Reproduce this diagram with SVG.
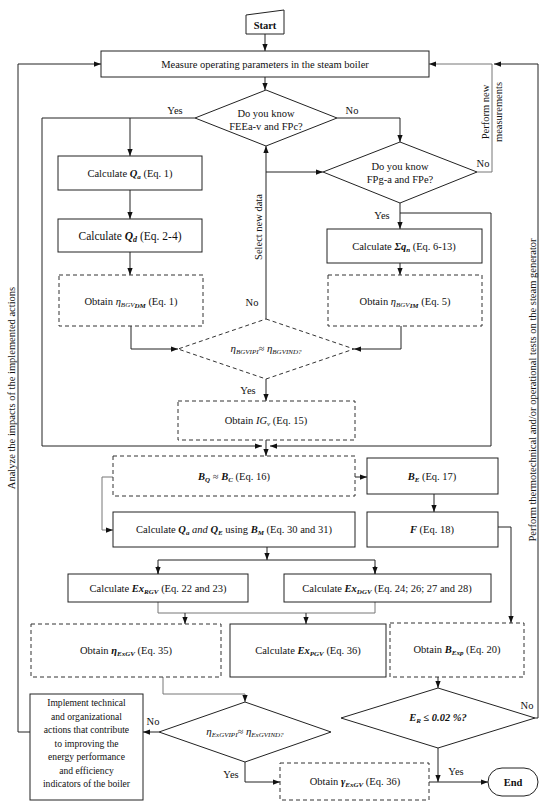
<svg xmlns="http://www.w3.org/2000/svg" width="550" height="805" viewBox="0 0 550 805">
<defs>
<marker id="ah" viewBox="0 0 8 6" refX="8" refY="3" markerWidth="7" markerHeight="5.5" markerUnits="userSpaceOnUse" orient="auto"><path d="M0,0 L8,3 L0,6 z" fill="#111"/></marker>
</defs>
<style>
.bx{fill:#fff;stroke:#222;stroke-width:1}
.db{fill:#fff;stroke:#333;stroke-width:1;stroke-dasharray:4 3}
.ln{fill:none;stroke:#222;stroke-width:1}
.lg{fill:none;stroke:#777;stroke-width:1}
.t{font-family:"Liberation Serif",serif;font-size:10.5px;fill:#111;text-anchor:middle}
.s{font-size:7px}
.bi{font-weight:bold;font-style:italic}
.i{font-style:italic}
.b{font-weight:bold}
</style>
<rect width="550" height="805" fill="#fff"/>

<g id="connectors">
<path class="ln" d="M265,34 V51" marker-end="url(#ah)"/>
<path class="ln" d="M265,77 V90" marker-end="url(#ah)"/>
<path class="ln" d="M195,118 H130 V156" marker-end="url(#ah)"/>
<path class="ln" d="M130,118 H42 V446 H262" marker-end="url(#ah)"/>
<path class="ln" d="M337,118 H400 V142" marker-end="url(#ah)"/>
<path class="lg" d="M477,172 H492 V64 H429" marker-end="url(#ah)"/>
<path class="ln" d="M535,718 H538 V64 H494" marker-end="url(#ah)"/>
<path class="ln" d="M266,319 V146" marker-end="url(#ah)"/>
<path class="ln" d="M266,172 H323" marker-end="url(#ah)"/>
<path class="ln" d="M130,190 V219" marker-end="url(#ah)"/>
<path class="ln" d="M130,252 V275" marker-end="url(#ah)"/>
<path class="ln" d="M131,326 V349 H178" marker-end="url(#ah)"/>
<path class="ln" d="M400,203 V229" marker-end="url(#ah)"/>
<path class="ln" d="M400,213 H491 V446 H270" marker-end="url(#ah)"/>
<path class="ln" d="M400,263 V275" marker-end="url(#ah)"/>
<path class="ln" d="M401,326 V349 H354" marker-end="url(#ah)"/>
<path class="ln" d="M266,379 V401" marker-end="url(#ah)"/>
<path class="ln" d="M266,440 V456" marker-end="url(#ah)"/>
<path class="ln" d="M355,477 H367" marker-end="url(#ah)"/>
<path class="lg" d="M113,477 H102 V530 H113" marker-end="url(#ah)"/>
<path class="ln" d="M434,494 V512" marker-end="url(#ah)"/>
<path class="ln" d="M498,527 H511 V623" marker-end="url(#ah)"/>
<path class="ln" d="M267,547 V560" marker-end="url(#ah)"/>
<path class="ln" d="M158,574 V560 H375 V574"/>
<path class="ln" d="M158,566 V574" marker-end="url(#ah)"/>
<path class="ln" d="M375,566 V574" marker-end="url(#ah)"/>
<path class="lg" d="M158,602 V613 H375 V602"/>
<path class="ln" d="M185,613 V624" marker-end="url(#ah)"/>
<path class="ln" d="M306,613 V624" marker-end="url(#ah)"/>
<path class="lg" d="M163,677 V694 H245 V702" marker-end="url(#ah)"/>
<path class="ln" d="M438,677 V688" marker-end="url(#ah)"/>
<path class="ln" d="M159,732 H143" marker-end="url(#ah)"/>
<path class="ln" d="M30,732 H18 V64 H101" marker-end="url(#ah)"/>
<path class="ln" d="M245,762 V782 H280" marker-end="url(#ah)"/>
<path class="ln" d="M438,748 V782" marker-end="url(#ah)"/>
<path class="ln" d="M429,782 H488" marker-end="url(#ah)"/>
</g>

<g id="labels">
<text class="t" x="175" y="114">Yes</text>
<text class="t" x="352" y="114">No</text>
<text class="t" x="483" y="167">No</text>
<text class="t" x="382" y="219">Yes</text>
<text class="t" x="252" y="306">No</text>
<text class="t" x="248" y="394">Yes</text>
<text class="t" x="153" y="725">No</text>
<text class="t" x="231" y="778">Yes</text>
<text class="t" x="456" y="775">Yes</text>
<text class="t" x="527" y="709">No</text>
<text class="t" transform="translate(262,227) rotate(-90)">Select new data</text>
<text class="t" transform="translate(489,112) rotate(-90)">Perform new</text>
<text class="t" transform="translate(502,112) rotate(-90)">measurements</text>
<text class="t" transform="translate(15,388) rotate(-90)">Analyze the impacts of the implemented actions</text>
<text class="t" transform="translate(536,390) rotate(-90)">Perform thermotechnical and/or operational tests on the steam generator</text>
</g>

<g id="start">
<polygon class="bx" points="246,15 284,10 284,34 246,34"/>
<text class="t b" x="265" y="29">Start</text>
</g>
<g id="measure">
<rect class="bx" x="101" y="51" width="328" height="26"/>
<text class="t" x="265" y="68">Measure operating parameters in the steam boiler</text>
</g>
<g id="dec1">
<polygon class="bx" points="266,90 337,118 266,146 195,118"/>
<text class="t" x="266" y="117">Do you know</text>
<text class="t" x="266" y="130">FEEa-v and FPc?</text>
</g>
<g id="dec2">
<polygon class="bx" points="400,142 477,172 400,203 323,172"/>
<text class="t" x="400" y="170">Do you know</text>
<text class="t" x="400" y="183">FPg-a and FPe?</text>
</g>
<g id="calcQa">
<rect class="bx" x="58" y="156" width="144" height="34"/>
<text class="t" x="130" y="177">Calculate <tspan class="bi">Q</tspan><tspan class="s bi" dy="2">a</tspan><tspan dy="-2"> (Eq. 1)</tspan></text>
</g>
<g id="calcQd">
<rect class="bx" x="58" y="219" width="144" height="33"/>
<text class="t" x="130" y="240" style="font-size:11.5px">Calculate <tspan class="bi">Q</tspan><tspan class="bi" style="font-size:8px" dy="2">d</tspan><tspan dy="-2"> (Eq. 2-4)</tspan></text>
</g>
<g id="etaDM">
<rect class="db" x="59" y="275" width="144" height="51"/>
<text class="t" x="131" y="305">Obtain <tspan class="i">η</tspan><tspan class="s i" dy="2">BGV</tspan><tspan class="s bi" dy="1">DM</tspan><tspan dy="-3"> (Eq. 1)</tspan></text>
</g>
<g id="calcSq">
<rect class="bx" x="327" y="229" width="155" height="34"/>
<text class="t" x="404" y="250">Calculate <tspan class="bi">Σq</tspan><tspan class="s bi" dy="2">n</tspan><tspan dy="-2"> (Eq. 6-13)</tspan></text>
</g>
<g id="etaIM">
<rect class="db" x="328" y="275" width="154" height="51"/>
<text class="t" x="405" y="305">Obtain <tspan class="i">η</tspan><tspan class="s i" dy="2">BGV</tspan><tspan class="s bi" dy="1">IM</tspan><tspan dy="-3"> (Eq. 5)</tspan></text>
</g>
<g id="dec3">
<polygon class="db" points="266,319 354,349 266,379 178,349"/>
<text class="t i" x="266" y="352"><tspan style="font-size:11px">η</tspan><tspan class="s" dy="2">BGVIPI</tspan><tspan dy="-2">≈ </tspan><tspan style="font-size:11px">η</tspan><tspan class="s" dy="2">BGVIND?</tspan></text>
</g>
<g id="IGv">
<rect class="db" x="178" y="401" width="177" height="39"/>
<text class="t" x="266" y="424">Obtain <tspan class="i">IG</tspan><tspan class="s i" dy="2">v</tspan><tspan dy="-2">  (Eq. 15)</tspan></text>
</g>
<g id="BQ">
<rect class="db" x="113" y="456" width="242" height="40"/>
<text class="t" x="234" y="480"><tspan class="bi">B</tspan><tspan class="s bi" dy="2">Q</tspan><tspan dy="-2"> ≈ </tspan><tspan class="bi">B</tspan><tspan class="s bi" dy="2">C</tspan><tspan dy="-2"> (Eq. 16)</tspan></text>
</g>
<g id="BE">
<rect class="bx" x="367" y="458" width="131" height="36"/>
<text class="t" x="432" y="480"><tspan class="bi">B</tspan><tspan class="s bi" dy="2">E</tspan><tspan dy="-2"> (Eq. 17)</tspan></text>
</g>
<g id="calcQaQE">
<rect class="bx" x="113" y="512" width="242" height="35"/>
<text class="t" x="234" y="533">Calculate <tspan class="bi">Q</tspan><tspan class="s bi" dy="2">a</tspan><tspan class="i" dy="-2"> and </tspan><tspan class="bi">Q</tspan><tspan class="s bi" dy="2">E</tspan><tspan dy="-2"> using </tspan><tspan class="bi">B</tspan><tspan class="s bi" dy="2">M</tspan><tspan dy="-2"> (Eq. 30 and 31)</tspan></text>
</g>
<g id="F">
<rect class="bx" x="367" y="512" width="131" height="35"/>
<text class="t" x="432" y="533"><tspan class="bi">F</tspan> (Eq. 18)</text>
</g>
<g id="ExRGV">
<rect class="bx" x="68" y="574" width="180" height="28"/>
<text class="t" x="158" y="592">Calculate <tspan class="bi">Ex</tspan><tspan class="s bi" dy="2">RGV</tspan><tspan dy="-2"> (Eq. 22 and 23)</tspan></text>
</g>
<g id="ExDGV">
<rect class="bx" x="284" y="574" width="207" height="28"/>
<text class="t" x="387" y="592">Calculate <tspan class="bi">Ex</tspan><tspan class="s bi" dy="2">DGV</tspan><tspan dy="-2"> (Eq. 24; 26; 27 and 28)</tspan></text>
</g>
<g id="etaExGV">
<rect class="db" x="31" y="624" width="190" height="53"/>
<text class="t" x="126" y="654">Obtain <tspan class="bi">η</tspan><tspan class="s bi" dy="2">ExGV</tspan><tspan dy="-2"> (Eq. 35)</tspan></text>
</g>
<g id="ExPGV">
<rect class="bx" x="230" y="624" width="156" height="53"/>
<text class="t" x="308" y="654">Calculate <tspan class="bi">Ex</tspan><tspan class="s bi" dy="2">PGV</tspan><tspan dy="-2"> (Eq. 36)</tspan></text>
</g>
<g id="BExp">
<rect class="db" x="390" y="623" width="134" height="54"/>
<text class="t" x="457" y="653">Obtain <tspan class="bi">B</tspan><tspan class="s bi" dy="2">Exp</tspan><tspan dy="-2"> (Eq. 20)</tspan></text>
</g>
<g id="dec4">
<polygon class="bx" points="245,702 331,732 245,762 159,732"/>
<text class="t i" x="245" y="735"><tspan style="font-size:11px">η</tspan><tspan class="s" dy="2">ExGVIPI</tspan><tspan dy="-2">≈ </tspan><tspan style="font-size:11px">η</tspan><tspan class="s" dy="2">ExGVIND?</tspan></text>
</g>
<g id="decER">
<polygon class="bx" points="438,688 535,718 438,748 341,718"/>
<text class="t bi" x="438" y="721">E<tspan class="s" dy="2">R</tspan><tspan dy="-2"> ≤ 0.02 %?</tspan></text>
</g>
<g id="implement">
<rect class="bx" x="30" y="694" width="113" height="106"/>
<text class="t" style="font-size:9.6px" x="86.5" y="706">Implement technical</text>
<text class="t" style="font-size:9.6px" x="86.5" y="719.5">and organizational</text>
<text class="t" style="font-size:9.6px" x="86.5" y="733">actions that contribute</text>
<text class="t" style="font-size:9.6px" x="86.5" y="746.5">to improving the</text>
<text class="t" style="font-size:9.6px" x="86.5" y="760">energy performance</text>
<text class="t" style="font-size:9.6px" x="86.5" y="773.5">and efficiency</text>
<text class="t" style="font-size:9.6px" x="86.5" y="787">indicators of the boiler</text>
</g>
<g id="gammaExGV">
<rect class="db" x="280" y="763" width="149" height="37"/>
<text class="t" x="355" y="785">Obtain <tspan class="bi">γ</tspan><tspan class="s bi" dy="2">ExGV</tspan><tspan dy="-2"> (Eq. 36)</tspan></text>
</g>
<g id="end">
<rect class="bx" x="488" y="768" width="50" height="28" rx="14"/>
<text class="t b" x="513" y="786">End</text>
</g>
</svg>
